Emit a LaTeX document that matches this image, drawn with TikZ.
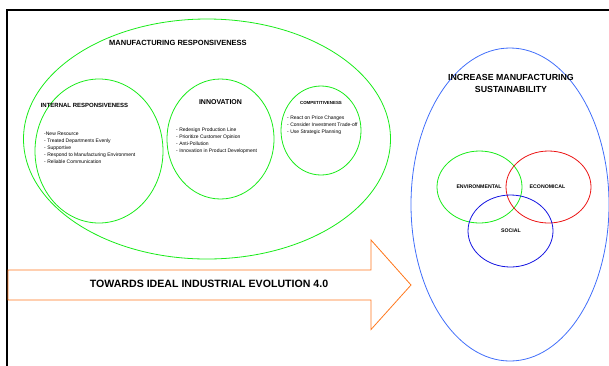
\documentclass[tikz,border=0pt]{standalone}
\usepackage{fontspec}
\setmainfont{Liberation Sans}
\definecolor{ringgreen}{RGB}{25,235,25}
\definecolor{ringred}{RGB}{235,20,20}
\definecolor{ringblue}{RGB}{20,20,225}
\definecolor{skyblue}{RGB}{65,110,250}
\definecolor{arroworange}{RGB}{255,120,30}
\begin{document}
\begin{tikzpicture}[x=1pt,y=-1pt,
    ring/.style={draw=ringgreen,line width=0.8pt},
    title/.style={inner sep=0pt,font=\bfseries\fontsize{#1}{#1}\selectfont},
    itemlist/.style={inner sep=0pt,anchor=north west,align=left,font=\fontsize{5}{7}\selectfont}]
    \useasboundingbox (0,0) rectangle (609,365);
    % frame
    \draw[line width=2pt] (7,366) -- (7,10) -- (610,10);
    % manufacturing responsiveness
    \draw[ring] (207,139) ellipse [x radius=183.5pt,y radius=120pt];
    \draw[ring] (99,151) ellipse [x radius=64pt,y radius=72pt];
    \draw[ring] (220.5,139) ellipse [x radius=53.5pt,y radius=60pt];
    \draw[ring] (321,130.5) ellipse [x radius=40pt,y radius=44.5pt];
    \node[title=7.5] (mresp) at (178,43) {MANUFACTURING RESPONSIVENESS};
    \node[title=6] (iresp) at (84.5,105) {INTERNAL RESPONSIVENESS};
    \node[itemlist] (irlist) at (44,132.2) {-New Resource\\- Treated Departments Evenly\\- Supportive\\- Respond to Manufacturing Environment\\- Reliable Communication};
    \node[title=7] (innov) at (220.5,102) {INNOVATION};
    \node[itemlist] (inlist) at (176,127.2) {- Redesign Production Line\\- Prioritize Customer Opinion\\- Anti-Pollution\\- Innovation in Product Development};
    \node[title=4.4] (compet) at (321,103) {COMPETITIVENESS};
    \node[itemlist] (colist) at (287,115.2) {- React on Price Changes\\- Consider Investment Trade-off\\- Use Strategic Planning};
    % arrow
    \draw[arroworange,line width=0.8pt] (8,270) -- (371,270) -- (371,240) -- (411,285)
        -- (371,329.5) -- (371,300) -- (8,300) -- cycle;
    \node[title=10.6] (toward) at (209,284) {TOWARDS IDEAL INDUSTRIAL EVOLUTION 4.0};
    % sustainability
    \draw[skyblue,line width=0.8pt] (510,204.5) ellipse [x radius=99pt,y radius=156.5pt];
    \node[title=8.8,align=center,font=\bfseries\fontsize{8.8}{12}\selectfont] (sust) at (511,83) {INCREASE MANUFACTURING\\SUSTAINABILITY};
    \draw[ringgreen,line width=0.8pt] (479.5,187) ellipse [x radius=42.5pt,y radius=36pt];
    \draw[ringred,line width=0.8pt] (548.5,187) ellipse [x radius=42.5pt,y radius=36pt];
    \draw[ringblue,line width=0.8pt] (510.5,231) ellipse [x radius=42.5pt,y radius=36pt];
    \node[title=5.2] (envir) at (479,187) {ENVIRONMENTAL};
    \node[title=5.2] (econ) at (547.5,187) {ECONOMICAL};
    \node[title=5.2] (social) at (511,231) {SOCIAL};
\end{tikzpicture}
\end{document}
